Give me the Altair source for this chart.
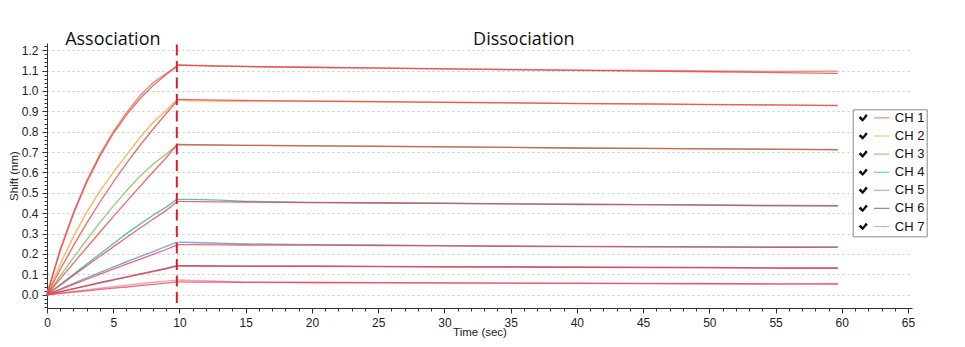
import altair as alt
import pandas as pd

CHANNELS = ["CH 1", "CH 2", "CH 3", "CH 4", "CH 5", "CH 6", "CH 7"]
RAW_COLORS = ["#ef8f76", "#f7b768", "#9fcc7c", "#5fbfae", "#7ea8d8", "#b47c9c", "#f3a0b4"]
FIT_COLOR = "#e6404a"

STEP_TIME = 9.8
ASSOC_T = [0, 1, 2, 3, 4, 5, 6, 7, 8, 9, 9.8]
DISSOC_T = [9.85, 11, 13, 15, 20, 25, 30, 35, 40, 45, 50, 55, 59.7]

RAW_ASSOC = [
    [0.005, 0.225, 0.405, 0.560, 0.690, 0.800, 0.893, 0.975, 1.040, 1.085, 1.122],
    [0.0, 0.150, 0.285, 0.405, 0.510, 0.600, 0.685, 0.770, 0.845, 0.905, 0.955],
    [0.0, 0.092, 0.182, 0.270, 0.355, 0.435, 0.510, 0.580, 0.640, 0.690, 0.733],
    [0.0, 0.050, 0.100, 0.150, 0.200, 0.250, 0.300, 0.345, 0.390, 0.430, 0.468],
    [0.0, 0.028, 0.056, 0.083, 0.110, 0.136, 0.162, 0.187, 0.212, 0.237, 0.258],
    [0.0, 0.015, 0.030, 0.045, 0.060, 0.074, 0.088, 0.102, 0.116, 0.130, 0.143],
    [0.0, 0.008, 0.016, 0.024, 0.032, 0.040, 0.047, 0.054, 0.061, 0.067, 0.072],
]
FIT_ASSOC = [
    [0.0, 0.216, 0.397, 0.552, 0.680, 0.791, 0.882, 0.960, 1.026, 1.081, 1.120],
    [0.0, 0.124, 0.241, 0.351, 0.455, 0.552, 0.644, 0.731, 0.812, 0.889, 0.950],
    [0.0, 0.078, 0.155, 0.232, 0.308, 0.383, 0.457, 0.530, 0.602, 0.672, 0.735],
    [0.0, 0.047, 0.095, 0.142, 0.189, 0.235, 0.281, 0.326, 0.370, 0.414, 0.455],
    [0.0, 0.025, 0.051, 0.076, 0.101, 0.126, 0.150, 0.174, 0.198, 0.222, 0.245],
    [0.0, 0.0145, 0.029, 0.0435, 0.058, 0.072, 0.086, 0.100, 0.114, 0.127, 0.140],
    [0.0, 0.0066, 0.013, 0.0195, 0.026, 0.032, 0.038, 0.045, 0.051, 0.057, 0.063],
]
RAW_DISSOC = [
    [1.128, 1.126, 1.122, 1.119, 1.115, 1.113, 1.108, 1.105, 1.102, 1.100, 1.098, 1.095, 1.097],
    [0.955, 0.952, 0.950, 0.950, 0.949, 0.947, 0.944, 0.942, 0.939, 0.936, 0.934, 0.930, 0.929],
    [0.735, 0.734, 0.733, 0.733, 0.731, 0.729, 0.726, 0.723, 0.719, 0.718, 0.716, 0.713, 0.711],
    [0.468, 0.468, 0.464, 0.458, 0.453, 0.451, 0.449, 0.446, 0.443, 0.442, 0.440, 0.436, 0.435],
    [0.258, 0.256, 0.253, 0.249, 0.246, 0.244, 0.241, 0.238, 0.236, 0.235, 0.234, 0.233, 0.235],
    [0.143, 0.142, 0.141, 0.140, 0.141, 0.139, 0.137, 0.137, 0.135, 0.134, 0.134, 0.131, 0.131],
    [0.072, 0.070, 0.066, 0.062, 0.060, 0.059, 0.058, 0.057, 0.057, 0.056, 0.055, 0.052, 0.055],
]
FIT_DISSOC = [
    [1.125, 1.124, 1.122, 1.120, 1.116, 1.112, 1.108, 1.104, 1.101, 1.097, 1.094, 1.090, 1.086],
    [0.958, 0.957, 0.955, 0.953, 0.950, 0.947, 0.944, 0.941, 0.938, 0.936, 0.933, 0.931, 0.928],
    [0.737, 0.736, 0.735, 0.733, 0.730, 0.728, 0.725, 0.723, 0.720, 0.718, 0.716, 0.714, 0.712],
    [0.458, 0.457, 0.456, 0.455, 0.452, 0.450, 0.448, 0.446, 0.444, 0.442, 0.440, 0.438, 0.437],
    [0.246, 0.246, 0.245, 0.244, 0.243, 0.241, 0.240, 0.238, 0.237, 0.236, 0.235, 0.233, 0.232],
    [0.141, 0.141, 0.140, 0.140, 0.139, 0.138, 0.137, 0.136, 0.135, 0.134, 0.133, 0.131, 0.130],
    [0.063, 0.062, 0.062, 0.061, 0.060, 0.059, 0.058, 0.057, 0.056, 0.055, 0.054, 0.053, 0.052],
]

PHASE_LABELS = ["Association", "Dissociation"]
PHASE_X = [4.97, 36.0]
PHASE_Y = [1.2255, 1.2255]

X_TICKS = list(range(0, 66))
Y_TICKS = [round(i * 0.02, 2) for i in range(-3, 62)]

# ---- build tables ----
def build(assoc, dissoc):
    rows = []
    for ci, ch in enumerate(CHANNELS):
        for t, v in zip(ASSOC_T, assoc[ci]):
            rows.append({"channel": ch, "seg": ch + "-a", "t": t, "v": v})
        for t, v in zip(DISSOC_T, dissoc[ci]):
            rows.append({"channel": ch, "seg": ch + "-d", "t": t, "v": v})
    return pd.DataFrame(rows)

raw_df = build(RAW_ASSOC, RAW_DISSOC)
fit_df = build(FIT_ASSOC, FIT_DISSOC)
step_df = pd.DataFrame({"t": [STEP_TIME], "v": [-0.041], "v2": [1.242]})
text_df = pd.DataFrame({"label": PHASE_LABELS, "t": PHASE_X, "v": PHASE_Y})

FONT = "Liberation Sans"
LINE_PATH = "M 0.07 0 L 0.98 0"
CHECK_PATH = ("M -0.78 0 L -0.65 -0.11 L -0.535 0.03 L -0.35 -0.225 L -0.235 -0.12 "
              "L -0.535 0.225 Z")
CHECK_KEYS = [c + " " for c in CHANNELS]  # separate domain so the legends stay apart

LEG_X, LEG_Y = 805.7, 66.3
common_leg = dict(
    title=None, orient="none", legendX=LEG_X, legendY=LEG_Y,
    symbolSize=1156, labelFont=FONT, labelFontSize=13, labelOffset=4,
    padding=2.1, rowPadding=4.1, clipHeight=13,
)

x_axis = alt.Axis(
    values=X_TICKS,
    labelExpr="datum.value % 5 === 0 ? datum.label : ''",
    tickSize={"condition": {"test": "datum.value % 5 === 0", "value": 5}, "value": 3},
    labelOverlap=False, labelFlush=False, labelBound=False,
    grid=False, domainColor="#333333", tickColor="#333333",
    labelFont=FONT, labelFontSize=12, labelColor="#222222", labelPadding=4,
    title="Time (sec)", titleFont=FONT, titleFontSize=11.5, titleFontWeight="normal",
    titleColor="#222222", titleBaseline="alphabetic", titleY=27,
)
major_y = "abs(datum.value*10 - round(datum.value*10)) < 0.001 && datum.value > -0.01"
y_axis = alt.Axis(
    values=Y_TICKS,
    labelExpr="(" + major_y + ") ? format(datum.value, '.1f') : ''",
    tickSize={"condition": {"test": major_y, "value": 5}, "value": 3},
    gridOpacity={"condition": {"test": major_y, "value": 1}, "value": 0},
    grid=True, gridColor="#c9c9c9", gridDash=[2, 3], gridWidth=1,
    labelOverlap=False, labelFlush=False, labelBound=False,
    domainColor="#333333", tickColor="#333333",
    labelFont=FONT, labelFontSize=12, labelColor="#222222", labelPadding=4,
    title="Shift (nm)", titleFont=FONT, titleFontSize=11.5, titleFontWeight="normal",
    titleColor="#222222", titlePadding=2,
)

x_enc = alt.X("t:Q", scale=alt.Scale(domain=[0, 65.3], nice=False, zero=False), axis=x_axis)
y_enc = alt.Y("v:Q", scale=alt.Scale(domain=[-0.065, 1.235], nice=False, zero=False), axis=y_axis)

raw = alt.Chart(raw_df).mark_line(strokeWidth=1.4).encode(
    x=x_enc,
    y=y_enc,
    stroke=alt.Stroke(
        "channel:N",
        scale=alt.Scale(domain=CHANNELS, range=RAW_COLORS),
        legend=alt.Legend(
            symbolType=LINE_PATH, symbolStrokeWidth=1.1, symbolOpacity=1,
            labelColor="#111111", fillColor="white", strokeColor="#8a8a8a",
            labelExpr="datum.label + '  '",
            **common_leg,
        ),
    ),
    detail="seg:N",
    order="t:Q",
)

# legend-only layer: check marks in front of every channel entry
checks = alt.Chart(raw_df).transform_filter("false").mark_point(
    filled=True, color="#111111", opacity=1
).encode(
    x=x_enc,
    y=y_enc,
    shape=alt.Shape(
        "channel:N",
        scale=alt.Scale(domain=CHECK_KEYS, range=[CHECK_PATH] * len(CHANNELS)),
        legend=alt.Legend(
            symbolFillColor="#111111", symbolStrokeWidth=0, symbolOpacity=1,
            labelExpr="''", **common_leg,
        ),
    ),
)

fit = alt.Chart(fit_df).mark_line(strokeWidth=1.3, color=FIT_COLOR, opacity=0.78).encode(
    x=x_enc, y=y_enc, detail="seg:N", order="t:Q"
)

step = alt.Chart(step_df).mark_rule(color="#d81f26", strokeWidth=2, strokeDash=[11, 5.5]).encode(
    x=x_enc, y=y_enc, y2="v2:Q"
)

phase = alt.Chart(text_df).mark_text(
    font="Open Sans", fontSize=18, baseline="alphabetic", align="center", color="#111111"
).encode(x=x_enc, y=y_enc, text="label:N")

chart = alt.layer(raw, fit, step, phase, checks).properties(
    width=865, height=265,
    autosize=alt.AutoSizeParams(type="none"),
    padding={"left": 47, "top": 43, "right": 53, "bottom": 39},
    background="white",
).configure_view(stroke=None)

chart.save("out.html", embed_options={"renderer": "svg", "actions": False})
